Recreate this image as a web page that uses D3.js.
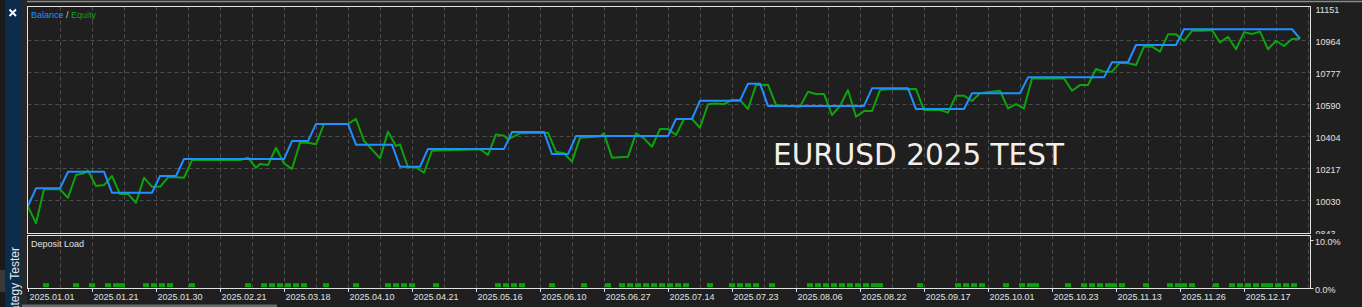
<!DOCTYPE html>
<html><head><meta charset="utf-8">
<script src="https://cdn.jsdelivr.net/npm/d3@7"></script>
<style>html,body{margin:0;padding:0;background:#1f1f1f;overflow:hidden}</style>
</head><body><svg id="c" width="1362" height="307"></svg>
<script>
// ---- data (x = deal number, y = account value) ----
const balance = [[0,9995],[2,10098],[8,10098],[10,10195],[19,10195],[21,10072],[31,10072],[33,10170],[37,10170],[39,10269],[64,10269],[66,10374],[70,10374],[72,10474],[80,10474],[82,10353],[91,10353],[93,10224],[98,10224],[100,10328],[119,10328],[121,10427],[129,10427],[131,10298],[135,10298],[137,10403],[160,10403],[162,10503],[166,10503],[168,10610],[178,10610],[180,10709],[183,10709],[185,10579],[209,10579],[211,10682],[220,10682],[222,10561],[234,10561],[236,10653],[248,10653],[250,10746],[269,10746],[271,10834],[275,10834],[277,10935],[287,10935],[289,11027],[316,11027],[318,10972]];
const equity = [[0,9991],[2,9894],[4,10092],[8,10092],[10,10043],[12,10176],[14,10186],[15,10201],[17,10112],[19,10117],[21,10170],[23,10065],[25,10065],[27,10014],[29,10160],[31,10107],[33,10107],[35,10162],[37,10162],[39,10160],[41,10263],[53,10263],[55,10277],[57,10218],[58,10240],[60,10234],[62,10335],[64,10244],[66,10211],[68,10364],[70,10364],[72,10355],[74,10474],[80,10474],[82,10503],[84,10376],[88,10273],[90,10429],[92,10345],[93,10355],[95,10221],[97,10221],[99,10189],[101,10318],[113,10326],[115,10293],[117,10413],[119,10405],[120,10384],[123,10419],[130,10423],[132,10312],[134,10303],[136,10254],[138,10394],[143,10400],[144,10419],[146,10277],[150,10283],[152,10419],[154,10390],[156,10341],[158,10444],[160,10444],[162,10409],[164,10503],[166,10503],[168,10452],[170,10589],[172,10594],[174,10589],[176,10614],[178,10614],[180,10561],[182,10701],[185,10703],[187,10585],[193,10575],[195,10662],[197,10649],[199,10649],[201,10526],[203,10579],[205,10672],[207,10516],[209,10549],[211,10549],[213,10672],[215,10676],[222,10678],[224,10555],[228,10555],[230,10540],[232,10639],[234,10639],[236,10608],[238,10653],[243,10668],[245,10565],[247,10590],[249,10565],[251,10740],[259,10740],[261,10668],[263,10701],[265,10701],[267,10795],[269,10779],[271,10779],[273,10832],[275,10828],[277,10818],[279,10925],[281,10925],[283,10896],[285,10997],[287,10997],[289,10958],[291,11018],[294,11018],[296,11022],[298,10950],[300,10983],[302,10910],[304,11009],[306,10999],[308,11013],[310,10910],[312,10960],[314,10929],[316,10970],[318,10972]];
const depositDeals = [4.5,12,16,20,22,23.5,29.5,31.5,33.5,35.5,41,55,59,61,63,65,67,69,74.5,82,90,92,94,96,102,117.5,119.5,121.5,123.5,131,139,145,148.5,150.5,152.5,154.5,156.5,158.5,160.5,162.5,164.5,170.5,176,178,180,182,186,195.5,197.5,199.5,201.5,203.5,205.5,207.5,209.5,211.5,213,223,232.5,234.5,236.5,238.5,244.5,248.5,250.5,252,260,264,266,268,270,271.5,273.5,279.5,285.5,287.5,289,291,297,301,303,305,307,309,310.5,312.5,314.5,316.5];
const depositLoad = [1,1,1,1,1,1,1,1,1,1,1,1,1,1,1,1,1,1,1,1,1,1,1,1,1,1,1,1,1,1,1,1,1,1,1,1,1,1,1,1,1,1,1,1,1,1,1,1,1,1,1,1,1,1,1,1,1,1,1,1,1,1,1,1,1,1,1,1,1,1,1,1,1,1,1,1,1,1,1,1,1,1,1,1,1,1,1,1];
const xTickDeals = [0,16,32,48,64,80,96,112,128,144,160,176,192,208,224,240,256,272,288,304];
const xTickLabels = ["2025.01.01","2025.01.21","2025.01.30","2025.02.21","2025.03.18","2025.04.10","2025.04.21","2025.05.16","2025.06.10","2025.06.27","2025.07.14","2025.07.23","2025.08.06","2025.08.22","2025.09.17","2025.10.01","2025.10.23","2025.11.13","2025.11.26","2025.12.17"];
const yTickValues = [9843,10030,10217,10404,10590,10777,10964,11151];
const yTickLabels = ["9843","10030","10217","10404","10590","10777","10964","11151"];
const depTickValues = [0,10];
const depTickLabels = ["0.0%","10.0%"];
const title = "EURUSD 2025 TEST";

// ---- drawing ----
const svg = d3.select("#c");
const FONT = "'Liberation Sans', Arial, sans-serif";
const L = 27.5, R = 1310.5, T = 6.5, B = 233.5, DT = 235.5, DB = 288.5;
const x = d3.scaleLinear().domain([0, 320]).range([28, 1308]);
const y = d3.scaleLinear().domain([9843, 11151]).range([232, 8]);
const yd = d3.scaleLinear().domain([0, 10]).range([288, 240]);

svg.append("rect").attr("width", 1362).attr("height", 307).attr("fill", "#1f1f1f");
// top strip
svg.append("line").attr("x1", 21).attr("x2", 1362).attr("y1", 1.5).attr("y2", 1.5).attr("stroke", "#8a8a8a").attr("stroke-width", 1.5);
// left sidebar
svg.append("rect").attr("x", 0).attr("y", 0).attr("width", 5).attr("height", 307).attr("fill", "#1a1a1a");
svg.append("rect").attr("x", 5).attr("y", 0).attr("width", 16).attr("height", 307).attr("fill", "#0b2c4b");
svg.append("rect").attr("x", 21).attr("y", 0).attr("width", 6).attr("height", 307).attr("fill", "#272727");
svg.append("rect").attr("x", 0).attr("y", 270).attr("width", 5).attr("height", 22).attr("fill", "#3a3a3a");
svg.append("path").attr("d", "M9.5,9.5L16,16M16,9.5L9.5,16").attr("stroke", "#ffffff").attr("stroke-width", 1.8);
svg.append("text").attr("transform", "translate(18.5,247) rotate(-90)").attr("text-anchor", "end")
  .attr("font-family", FONT).attr("font-size", 12).attr("fill", "#e6e6e6").text("Strategy Tester");
// bottom scrollbar
svg.append("rect").attr("x", 22).attr("y", 304.5).attr("width", 255).attr("height", 3).attr("fill", "#6a6a6a");

// panels
svg.append("rect").attr("x", L).attr("y", T).attr("width", R - L).attr("height", B - T).attr("fill", "#1f1f1f");
svg.append("rect").attr("x", L).attr("y", DT).attr("width", R - L).attr("height", DB - DT).attr("fill", "#1f1f1f");

const grid = svg.append("g").attr("stroke", "#4d4d4d").attr("stroke-dasharray", "4,3").attr("stroke-width", 1);
const vDeals = d3.range(8, 321, 8);
grid.selectAll(".vg").data(vDeals).enter().append("line")
  .attr("x1", d => Math.round(x(d)) + 0.5).attr("x2", d => Math.round(x(d)) + 0.5).attr("y1", T).attr("y2", B);
grid.selectAll(".vg2").data(vDeals).enter().append("line")
  .attr("x1", d => Math.round(x(d)) + 0.5).attr("x2", d => Math.round(x(d)) + 0.5).attr("y1", DT).attr("y2", DB);
grid.selectAll(".hg").data(yTickValues.slice(1, 7)).enter().append("line")
  .attr("x1", L).attr("x2", R).attr("y1", d => Math.round(y(d)) + 0.5).attr("y2", d => Math.round(y(d)) + 0.5);

// clip
const defs = svg.append("defs");
defs.append("clipPath").attr("id", "mainclip").append("rect").attr("x", L).attr("y", T).attr("width", R - L).attr("height", B - T);
defs.append("clipPath").attr("id", "ylabclip").append("rect").attr("x", R).attr("y", 0).attr("width", 60).attr("height", 234);

// title
svg.append("text").attr("x", 773).attr("y", 165).attr("font-family", "'DejaVu Sans', sans-serif")
  .attr("font-size", 29.5).attr("fill", "#f4efea").text(title);

// lines
const line = d3.line().x(d => x(d[0])).y(d => y(d[1]));
const lg = svg.append("g").attr("clip-path", "url(#mainclip)");
lg.append("path").datum(equity).attr("d", line).attr("fill", "none").attr("stroke", "#0ca30c").attr("stroke-width", 2).attr("stroke-linejoin", "round");
lg.append("path").datum(balance).attr("d", line).attr("fill", "none").attr("stroke", "#1e90ff").attr("stroke-width", 2).attr("stroke-linejoin", "round");

// deposit load squares
svg.selectAll(".dep").data(depositDeals.map((d, i) => [d, depositLoad[i]])).enter().append("rect")
  .attr("x", d => x(d[0]) - 3).attr("y", d => yd(d[1]))
  .attr("width", 6).attr("height", d => yd(0) - yd(d[1]) - 0.8).attr("fill", "#0aa30a");

// borders
svg.append("rect").attr("x", L).attr("y", T).attr("width", R - L).attr("height", B - T).attr("fill", "none").attr("stroke", "#e2e2e2");
svg.append("rect").attr("x", L).attr("y", DT).attr("width", R - L).attr("height", DB - DT).attr("fill", "none").attr("stroke", "#e2e2e2");

// legend & labels
const leg = svg.append("text").attr("x", 31).attr("y", 17.5).attr("font-family", FONT).attr("font-size", 9);
leg.append("tspan").attr("fill", "#1e90ff").text("Balance");
leg.append("tspan").attr("fill", "#d8d0b8").text(" / ");
leg.append("tspan").attr("fill", "#0ca30c").text("Equity");
svg.append("text").attr("x", 31).attr("y", 246.5).attr("font-family", FONT).attr("font-size", 9).attr("fill", "#e0e0e0").text("Deposit Load");

// x axis
const xa = svg.append("g");
xa.selectAll("line").data(xTickDeals).enter().append("line")
  .attr("x1", d => Math.round(x(d)) + 0.5).attr("x2", d => Math.round(x(d)) + 0.5)
  .attr("y1", DB).attr("y2", DB + 3.5).attr("stroke", "#e2e2e2");
xa.selectAll("text").data(xTickDeals).enter().append("text")
  .attr("x", d => x(d) + 1.5).attr("y", 299.5).attr("font-family", FONT).attr("font-size", 9)
  .attr("fill", "#e0e0e0").text((d, i) => xTickLabels[i]);

// y axis
const ya = svg.append("g").attr("clip-path", "url(#ylabclip)");
ya.selectAll("text").data(yTickValues).enter().append("text")
  .attr("x", 1315.5).attr("y", d => y(d) + 5).attr("font-family", FONT).attr("font-size", 9)
  .attr("fill", "#e0e0e0").text((d, i) => yTickLabels[i]);
svg.selectAll(".dt").data(depTickValues).enter().append("text")
  .attr("x", 1315).attr("y", d => yd(d) + 5).attr("font-family", FONT).attr("font-size", 9)
  .attr("fill", "#e0e0e0").text((d, i) => depTickLabels[i]);
svg.selectAll(".dtk").data(depTickValues).enter().append("line")
  .attr("x1", R).attr("x2", R + 3).attr("y1", d => Math.round(yd(d)) + 0.5).attr("y2", d => Math.round(yd(d)) + 0.5)
  .attr("stroke", "#e2e2e2");
</script></body></html>
